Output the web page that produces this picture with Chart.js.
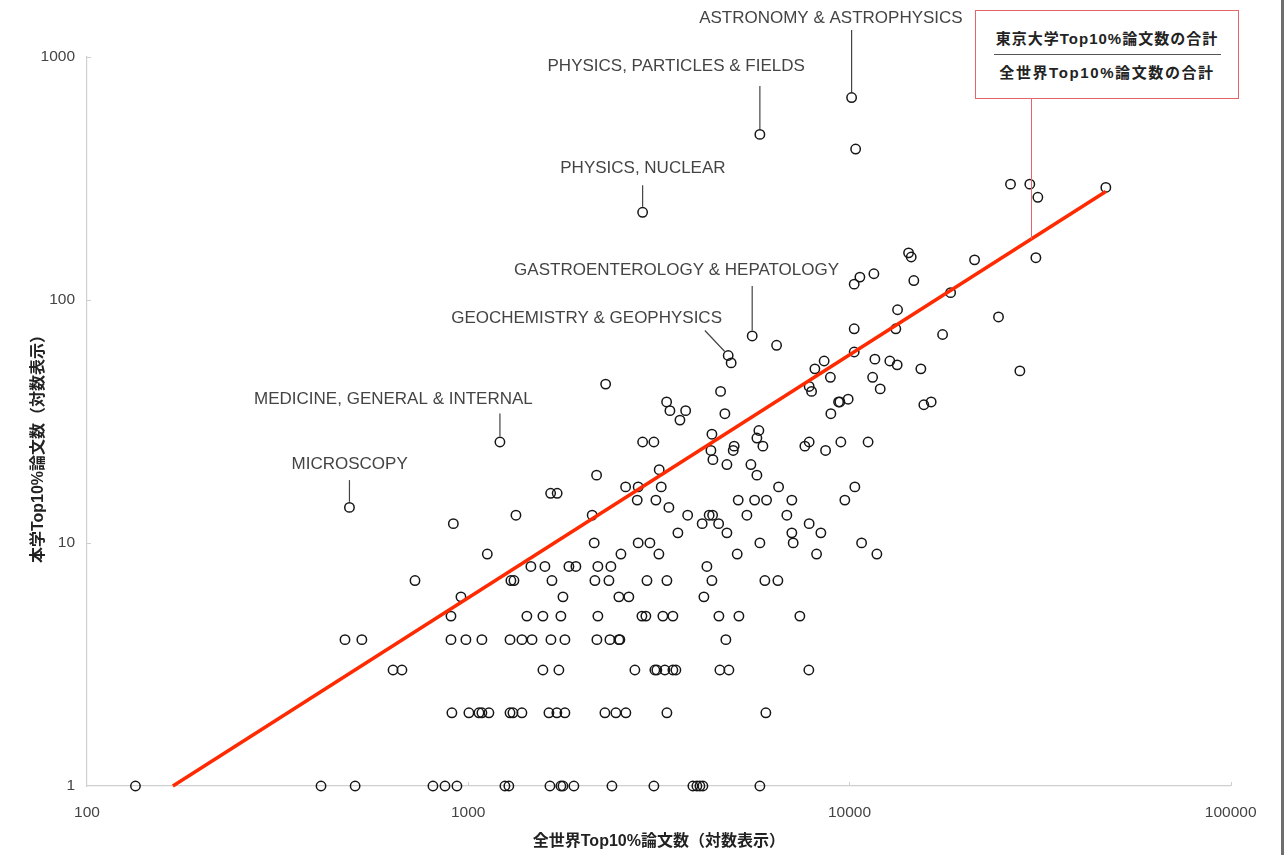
<!DOCTYPE html>
<html lang="ja">
<head>
<meta charset="utf-8">
<title>本学Top10%論文数と全世界Top10%論文数</title>
<script src="https://cdn.jsdelivr.net/npm/chart.js@4"></script>
<style>
  html, body { margin: 0; padding: 0; background: #fff; }
  #wrap { position: relative; width: 1284px; height: 855px; }
  #edge { position: absolute; left: 1281px; top: 0; width: 3px; height: 855px; background: #6e6e6e; }
  #totalBox {
    position: absolute; left: 975px; top: 10px; width: 264px; height: 89px;
    box-sizing: border-box; border: 1px solid #e2656d; background: #fff;
    font-family: "Liberation Sans", "Noto Sans CJK JP", sans-serif;
    font-weight: bold; font-size: 15px; color: #222;
  }
  #totalBox .line { position: absolute; left: 0; right: 0; height: 20px; line-height: 20px; text-align: center; }
  #totalBox .top { top: 18px; letter-spacing: 1px; }
  #totalBox .bottom { top: 52px; letter-spacing: 1.6px; }
  #totalBox .bar { position: absolute; left: 18px; top: 43px; width: 227px; height: 1px; background: #555; }
</style>
</head>
<body>
<div id="wrap">
  <canvas id="scatter"></canvas>
  <div id="totalBox">
    <div class="line top">東京大学Top10%論文数の合計</div>
    <div class="bar"></div>
    <div class="line bottom">全世界Top10%論文数の合計</div>
  </div>
  <div id="edge"></div>
</div>
<script>
// 全世界Top10%論文数 (x) and 本学Top10%論文数 (y), one entry per field
const worldTop10 = [
  // 本学 1
  134, 411, 505, 808, 869, 934, 1248, 1278, 1638, 1750, 1772, 1893, 2382, 3069, 3884, 3979, 4052, 4126, 5821,
  // 本学 2
  906, 1004, 1067, 1086, 1133, 1287, 1310, 1383, 1628, 1708, 1793, 2283, 2439, 2591, 3320, 6035,
  // 本学 3
  635, 670, 1570, 1729, 2736, 3087, 3124, 3279, 3442, 3505, 4572, 4828, 7824,
  // 本学 4
  475, 526, 901, 986, 1086, 1287, 1383, 1470, 1648, 1793, 2175, 2353, 2484, 2499, 4740,
  // 本学 5
  901, 1425, 1570, 1750, 2188, 2855, 2924, 3240, 3442, 4545, 5129, 7411,
  // 本学 6
  957, 1772, 2484, 2638, 4151,
  // 本学 7
  725, 1294, 1318, 1658, 2149, 2339, 2943, 3320, 4357, 5999, 6490,
  // 本学 8
  1460, 1589, 1837, 1916, 2188, 2367, 4227,
  // 本学 9 and more
  914, 1122, 1334, 1211, 1645, 1711, 2140, 2114, 2171, 2293,
  2515, 2587, 2791, 2775, 2791, 2867, 3069, 2996, 3163, 3106,
  3169, 3208, 3360, 3314, 3381, 3592, 3718, 3548, 3763, 4108,
  4285, 4375, 4537, 4770, 4357, 4331, 4383, 4591, 4712, 4770,
  4807, 4894, 5076, 5107, 5382, 5557, 4984, 4955, 5514, 5717,
  5786, 5717, 5928, 5639, 6061, 5821, 6517, 6439, 6851, 7061,
  7061, 7118, 7839, 8414, 8198, 8115, 8582, 7839, 7954, 7638,
  7839, 8656, 8911, 26450, 29720, 31200, 14290, 14520, 21290, 30830,
  10650, 10290, 11590, 14750, 18420, 13370, 24600, 10290, 13230, 17550,
  10290, 11660, 12760, 13340, 15390, 27990, 11500, 12040, 9363, 9436,
  9922, 8937, 15670, 16380, 9493, 11190, 10330, 9725, 10760, 11800,
  47040, 10130, 10380, 5821, 2867, 488
];
const todaiTop10 = [
  1, 1, 1, 1, 1, 1, 1, 1, 1, 1, 1, 1, 1, 1, 1, 1, 1, 1, 1,
  2, 2, 2, 2, 2, 2, 2, 2, 2, 2, 2, 2, 2, 2, 2, 2,
  3, 3, 3, 3, 3, 3, 3, 3, 3, 3, 3, 3, 3,
  4, 4, 4, 4, 4, 4, 4, 4, 4, 4, 4, 4, 4, 4, 4,
  5, 5, 5, 5, 5, 5, 5, 5, 5, 5, 5, 5,
  6, 6, 6, 6, 6,
  7, 7, 7, 7, 7, 7, 7, 7, 7, 7, 7,
  8, 8, 8, 8, 8, 8, 8,
  12, 9, 13, 26, 16, 16, 10, 13, 19, 45,
  9, 17, 17, 15, 10, 26, 26, 10, 9, 15,
  20, 17, 14, 38, 35, 32, 35, 11, 13, 12,
  13, 13, 12, 11, 28, 24, 22, 42, 34, 21,
  59, 55, 9, 15, 13, 71, 25, 24, 21, 19,
  29, 27, 25, 15, 15, 10, 17, 65, 13, 15,
  11, 10, 12, 11, 9, 52, 56, 44, 42, 25,
  26, 24, 48, 299, 299, 264, 156, 150, 146, 149,
  124, 116, 128, 120, 107, 91, 85, 76, 76, 72,
  61, 57, 56, 54, 52, 51, 48, 43, 38, 38,
  39, 34, 37, 38, 26, 26, 17, 15, 10, 9,
  290, 679, 417, 479, 229, 14
];

// ratio line: 東京大学合計 / 全世界合計
const ratioWorld = [168, 47040];
const ratioTodai = [1, 279];
const ratioMarkWorld = 30000;

// labelled fields
const labelNames = [
  'ASTRONOMY & ASTROPHYSICS', 'PHYSICS, PARTICLES & FIELDS', 'PHYSICS, NUCLEAR',
  'GASTROENTEROLOGY & HEPATOLOGY', 'GEOCHEMISTRY & GEOPHYSICS',
  'MEDICINE, GENERAL & INTERNAL', 'MICROSCOPY'
];
const labelWorld = [10130, 5821, 2867, 5557, 4807, 1211, 488];
const labelTodai = [679, 479, 229, 71, 59, 26, 14];

const xTicks = [100, 1000, 10000, 100000];
const yTicks = [1, 10, 100, 1000];
const xTitle = '全世界Top10%論文数（対数表示）';
const yTitle = '本学Top10%論文数（対数表示）';

// label text offset and leader line, in pixels from the point
const labelLayout = [
  [-20.7, -79.2, 0, -67.5, 0, -5.5],
  [-83.7, -67.8, 0, -48.5, 0, -5.5],
  [0.3, -44.5, 0, -27, 0, -5.5],
  [-75.6, -66, 0, -50, 0, -5.5],
  [-141.6, -37.3, -23.3, -25, -3.5, -4],
  [-106.5, -42.4, 0, -28.4, 0, -5.5],
  [0.2, -43.3, 0, -27.3, 0, -5.5]
];

const latin = '"Liberation Sans", Arial, sans-serif';
const mixed = '"Liberation Sans", "Noto Sans CJK JP", sans-serif';

const overlay = {
  id: 'overlay',
  afterDatasetsDraw(chart) {
    const { ctx, scales: { x, y } } = chart;
    ctx.save();

    // short inward tick marks
    ctx.strokeStyle = '#cfcfcf';
    ctx.lineWidth = 1;
    ctx.beginPath();
    xTicks.slice(1).forEach(v => {
      const px = Math.round(x.getPixelForValue(v)) + 0.5;
      ctx.moveTo(px, y.bottom);
      ctx.lineTo(px, y.bottom - 4);
    });
    yTicks.slice(1).forEach(v => {
      const py = Math.round(y.getPixelForValue(v)) + 0.5;
      ctx.moveTo(x.left, py);
      ctx.lineTo(x.left + 4, py);
    });
    ctx.stroke();

    // field labels with leader lines
    ctx.font = '17px ' + latin;
    ctx.fillStyle = '#444';
    ctx.strokeStyle = '#444';
    ctx.lineWidth = 1.2;
    ctx.textAlign = 'center';
    ctx.textBaseline = 'middle';
    labelNames.forEach((name, i) => {
      const px = x.getPixelForValue(labelWorld[i]);
      const py = y.getPixelForValue(labelTodai[i]);
      const [dx, dy, x1, y1, x2, y2] = labelLayout[i];
      ctx.fillText(name, px + dx, py + dy);
      ctx.beginPath();
      ctx.moveTo(px + x1, py + y1);
      ctx.lineTo(px + x2, py + y2);
      ctx.stroke();
    });

    // connector from the ratio line up to the totals box
    const ax = x.getPixelForValue(ratioWorld[0]), ay = y.getPixelForValue(ratioTodai[0]);
    const bx = x.getPixelForValue(ratioWorld[1]), by = y.getPixelForValue(ratioTodai[1]);
    const mx = x.getPixelForValue(ratioMarkWorld);
    const my = ay + (by - ay) * (mx - ax) / (bx - ax);
    ctx.strokeStyle = '#e2656d';
    ctx.lineWidth = 1;
    ctx.beginPath();
    ctx.moveTo(Math.round(mx) + 0.5, 99);
    ctx.lineTo(Math.round(mx) + 0.5, my);
    ctx.stroke();

    // vertical axis title
    ctx.translate(38.5, 445);
    ctx.rotate(-Math.PI / 2);
    ctx.font = 'bold 16px ' + mixed;
    ctx.fillStyle = '#222';
    ctx.fillText(yTitle, 0, 0);
    ctx.restore();
  }
};

const points = worldTop10.map((v, i) => ({ x: v, y: todaiTop10[i] }));
const ratioLine = ratioWorld.map((v, i) => ({ x: v, y: ratioTodai[i] }));

const canvas = document.getElementById('scatter');
canvas.width = 1284;
canvas.height = 855;

new Chart(canvas, {
  type: 'scatter',
  data: {
    datasets: [
      {
        data: ratioLine,
        showLine: true,
        borderColor: '#ff2a00',
        borderWidth: 3.5,
        pointRadius: 0,
        clip: false
      },
      {
        data: points,
        pointRadius: 4.7,
        pointBorderWidth: 1.5,
        pointBorderColor: '#161616',
        pointBackgroundColor: 'rgba(0,0,0,0)',
        clip: false
      }
    ]
  },
  options: {
    responsive: false,
    animation: false,
    events: [],
    layout: { padding: { top: 56.7, right: 53.3, bottom: 0, left: 0 } },
    plugins: { legend: { display: false }, tooltip: { enabled: false } },
    scales: {
      x: {
        type: 'logarithmic',
        min: 100,
        max: 100000,
        afterBuildTicks: s => { s.ticks = xTicks.map(v => ({ value: v })); },
        afterFit: s => { s.height = 69; },
        grid: { display: false, drawTicks: false },
        border: { display: true, color: '#cfcfcf', width: 1.2 },
        ticks: {
          padding: 17,
          autoSkip: false,
          maxRotation: 0,
          color: '#444',
          font: { family: latin, size: 15.5 },
          callback: v => String(v)
        },
        title: {
          display: true,
          text: xTitle,
          color: '#222',
          font: { family: mixed, size: 16, weight: 'bold' },
          padding: { top: 0, bottom: 4 }
        }
      },
      y: {
        type: 'logarithmic',
        min: 1,
        max: 1000,
        afterBuildTicks: s => { s.ticks = yTicks.map(v => ({ value: v })); },
        afterFit: s => { s.width = 87; },
        grid: { display: false, drawTicks: false },
        border: { display: true, color: '#cfcfcf', width: 1.2 },
        ticks: {
          padding: 12,
          autoSkip: false,
          color: '#444',
          font: { family: latin, size: 15.5 },
          callback: v => String(v)
        }
      }
    }
  },
  plugins: [overlay]
});
</script>
</body>
</html>
